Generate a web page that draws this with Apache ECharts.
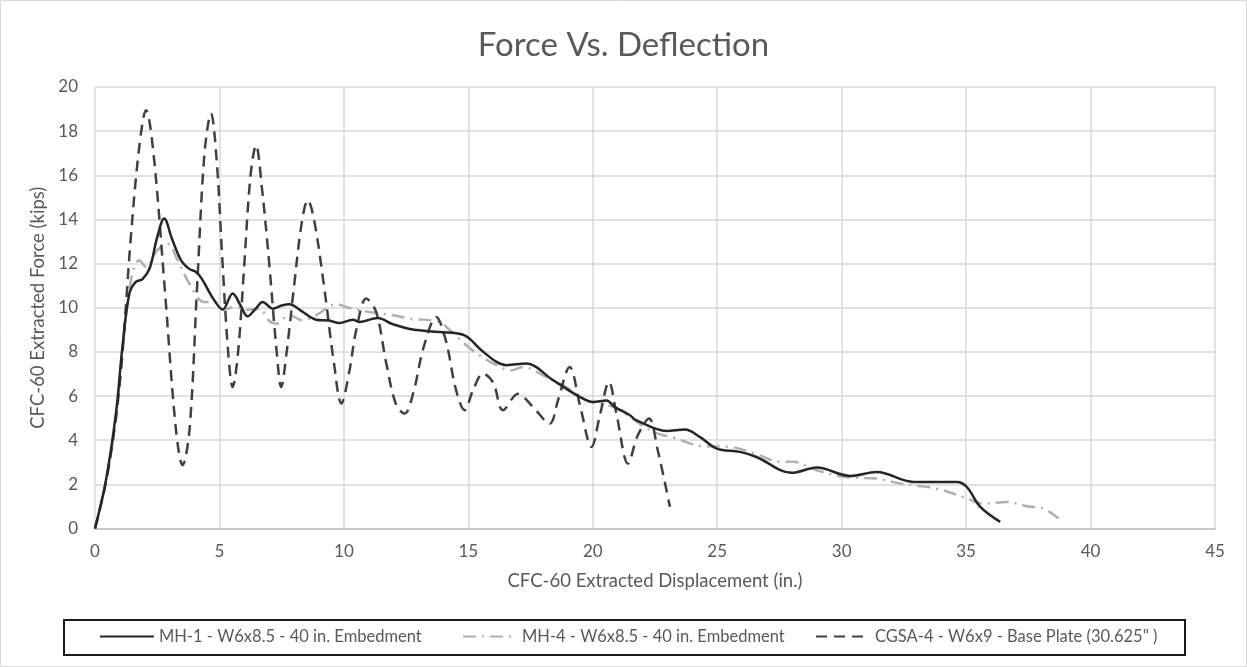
<!DOCTYPE html>
<html>
<head>
<meta charset="utf-8">
<script src="https://cdn.jsdelivr.net/npm/echarts@6/dist/echarts.min.js"></script>
<style>
  html, body { margin: 0; padding: 0; background: #fff; }
  #chart { width: 1247px; height: 667px; }
</style>
</head>
<body>
<div id="chart"></div>
<script>
// ---- Data ----
const seriesNames = [
  'MH-1 - W6x8.5 - 40 in. Embedment',
  'MH-4 - W6x8.5 - 40 in. Embedment',
  'CGSA-4 - W6x9 - Base Plate (30.625" )'
];

const mh1X = [0, 0.44, 0.84, 1.1, 1.38, 1.64, 1.91, 2.2, 2.5, 2.78, 3.1, 3.46, 3.8, 4.06, 4.3, 4.7, 5.13, 5.53, 5.85, 6.13, 6.45, 6.74, 7.14, 7.5, 7.81, 8.3, 8.88, 9.4, 9.82, 10.36, 10.63, 11.36, 11.97, 12.77, 13.85, 14.85, 15.5, 16.13, 16.53, 17.33, 18.4, 19.48, 20.01, 20.55, 20.88, 21.49, 21.76, 22.96, 23.7, 24.3, 24.98, 25.91, 26.58, 27.99, 29.0, 30.34, 31.41, 32.88, 34.63, 35.03, 35.57, 36.37];
const mh1Y = [0, 2.19, 5.2, 8.2, 10.64, 11.17, 11.3, 11.8, 13.2, 14.04, 13.1, 12.15, 11.75, 11.62, 11.3, 10.5, 9.92, 10.64, 10.1, 9.61, 9.95, 10.26, 9.96, 10.1, 10.16, 9.85, 9.46, 9.42, 9.31, 9.46, 9.36, 9.54, 9.25, 9.01, 8.9, 8.75, 8.1, 7.55, 7.4, 7.47, 6.72, 5.96, 5.73, 5.8, 5.51, 5.13, 4.9, 4.42, 4.48, 4.15, 3.62, 3.47, 3.24, 2.52, 2.76, 2.38, 2.56, 2.11, 2.11, 1.88, 0.98, 0.3];

const mh4X = [0, 0.44, 0.84, 1.1, 1.44, 1.78, 2.05, 2.5, 2.92, 3.3, 3.79, 4.39, 4.79, 5.13, 5.67, 6.05, 6.6, 7.0, 7.28, 7.81, 8.35, 8.88, 9.69, 10.22, 11.03, 11.97, 12.64, 13.85, 14.18, 14.92, 15.45, 16.13, 16.73, 17.2, 18.0, 18.81, 19.61, 20.15, 20.82, 21.49, 22.42, 23.36, 24.3, 25.5, 26.58, 27.52, 28.06, 29.0, 30.07, 31.41, 32.35, 33.16, 33.96, 35.03, 35.7, 36.64, 37.45, 38.11, 38.72];
const mh4Y = [0, 2.1, 5.0, 8.0, 11.25, 12.15, 11.85, 12.6, 12.9, 12.2, 11.1, 10.26, 10.26, 9.92, 10.04, 9.9, 9.96, 9.4, 9.28, 9.66, 9.43, 9.66, 10.16, 9.99, 9.81, 9.66, 9.51, 9.36, 9.06, 8.3, 7.85, 7.4, 7.17, 7.32, 6.94, 6.49, 5.89, 5.66, 5.51, 5.05, 4.38, 4.08, 3.74, 3.7, 3.37, 3.02, 3.02, 2.64, 2.34, 2.26, 2.04, 1.92, 1.77, 1.36, 1.13, 1.2, 1.01, 0.9, 0.45];

const cgsaX = [0, 0.44, 0.84, 1.1, 1.44, 1.78, 2.05, 2.35, 2.8, 3.25, 3.52, 3.8, 4.1, 4.4, 4.66, 4.9, 5.1, 5.35, 5.53, 5.75, 6.0, 6.25, 6.47, 6.7, 7.0, 7.3, 7.48, 7.7, 8.0, 8.3, 8.55, 8.8, 9.2, 9.6, 9.9, 10.2, 10.5, 10.9, 11.3, 11.7, 12.1, 12.44, 12.8, 13.2, 13.71, 14.1, 14.5, 14.85, 15.2, 15.59, 16.0, 16.39, 17.0, 17.6, 18.27, 18.6, 19.07, 19.5, 19.95, 20.3, 20.65, 20.95, 21.42, 21.8, 22.26, 22.6, 23.1];
const cgsaY = [0, 2.1, 5.0, 7.9, 13.2, 17.3, 18.95, 17.0, 10.9, 4.5, 2.87, 4.5, 10.9, 17.0, 18.8, 16.5, 12.5, 8.0, 6.41, 8.0, 12.0, 16.0, 17.36, 15.5, 12.0, 8.0, 6.41, 8.0, 11.0, 13.8, 14.87, 14.0, 11.0, 7.5, 5.66, 7.0, 9.0, 10.42, 9.8, 7.5, 5.6, 5.21, 6.2, 8.2, 9.58, 8.5, 6.3, 5.36, 6.3, 7.02, 6.6, 5.36, 6.1, 5.5, 4.75, 5.8, 7.32, 5.5, 3.7, 5.2, 6.64, 5.2, 2.94, 4.2, 4.98, 3.6, 0.98];

const xTicks = { min: 0, max: 45, step: 5 };
const yTicks = { min: 0, max: 20, step: 2 };

function zip(xs, ys) { return xs.map((x, i) => [x, ys[i]]); }

// ---- Chart ----
const FONT = 'Lato';
const TXT = '#595959';
const chart = echarts.init(document.getElementById('chart'), null, { renderer: 'canvas' });

const legendCommon = {
  orient: 'horizontal', top: 628, padding: 0,
  itemWidth: 54, itemHeight: 14, itemGap: 5,
  itemStyle: { opacity: 0 },
  textStyle: { fontFamily: FONT, fontSize: 16.5, color: TXT },
  selectedMode: false
};

chart.setOption({
  animation: false,
  backgroundColor: '#ffffff',
  title: {
    text: 'Force Vs. Deflection',
    left: 'center', top: 24,
    textStyle: { fontFamily: FONT, fontSize: 33, fontWeight: 'normal', color: TXT }
  },
  legend: [
    Object.assign({}, legendCommon, { left: 99, data: [seriesNames[0]] }),
    Object.assign({}, legendCommon, { left: 462, data: [seriesNames[1]] }),
    Object.assign({}, legendCommon, { left: 815, data: [seriesNames[2]] })
  ],
  graphic: [
    { type: 'rect', silent: true, shape: { x: 0.5, y: 0.5, width: 1246, height: 666 },
      style: { fill: 'none', stroke: '#d9d9d9', lineWidth: 1 } },
    { type: 'rect', silent: true, shape: { x: 64, y: 620, width: 1121, height: 35 },
      style: { fill: 'none', stroke: '#1a1a1a', lineWidth: 2 } }
  ],
  grid: { left: 95, right: 32, top: 87, bottom: 138.5, containLabel: false },
  xAxis: {
    type: 'value', min: xTicks.min, max: xTicks.max, interval: xTicks.step,
    name: 'CFC-60 Extracted Displacement (in.)',
    nameLocation: 'middle', nameGap: 43,
    nameTextStyle: { fontFamily: FONT, fontSize: 18.5, color: TXT },
    axisLine: { show: true, lineStyle: { color: '#bfbfbf', width: 1.5 } },
    axisTick: { show: false },
    axisLabel: { fontFamily: FONT, fontSize: 17, color: TXT, margin: 15 },
    splitLine: { show: true, lineStyle: { color: '#d9d9d9', width: 1.5 } }
  },
  yAxis: {
    type: 'value', min: yTicks.min, max: yTicks.max, interval: yTicks.step,
    name: 'CFC-60 Extracted Force (kips)',
    nameLocation: 'middle', nameGap: 41, nameRotate: 90,
    nameTextStyle: { fontFamily: FONT, fontSize: 18.5, color: TXT },
    axisLine: { show: false },
    axisTick: { show: false },
    axisLabel: { fontFamily: FONT, fontSize: 17, color: TXT, margin: 17 },
    splitLine: { show: true, lineStyle: { color: '#d9d9d9', width: 1.5 } }
  },
  series: [
    {
      name: seriesNames[0], type: 'line', data: zip(mh1X, mh1Y),
      smooth: 0.35, symbol: 'none', z: 4,
      lineStyle: { color: '#262626', width: 2.5, type: 'solid' },
      itemStyle: { color: '#262626' }
    },
    {
      name: seriesNames[1], type: 'line', data: zip(mh4X, mh4Y),
      smooth: 0.35, symbol: 'none', z: 2,
      lineStyle: { color: '#b0b0b0', width: 2.5, type: [13, 6, 2, 6] },
      itemStyle: { color: '#b0b0b0' }
    },
    {
      name: seriesNames[2], type: 'line', data: zip(cgsaX, cgsaY),
      smooth: 0.35, symbol: 'none', z: 3,
      lineStyle: { color: '#404040', width: 2.5, type: [11, 7] },
      itemStyle: { color: '#404040' }
    }
  ]
});
</script>
</body>
</html>
